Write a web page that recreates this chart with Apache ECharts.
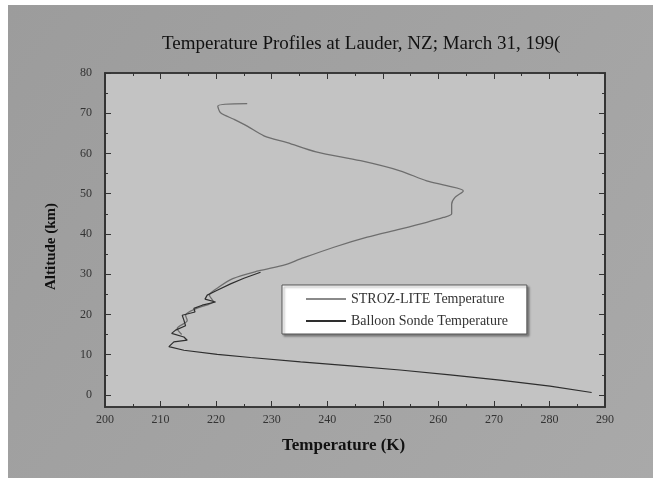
<!DOCTYPE html>
<html><head><meta charset="utf-8">
<script src="https://cdn.jsdelivr.net/npm/echarts@6/dist/echarts.min.js"></script>
<style>html,body{margin:0;padding:0;background:#fff}#c{width:653px;height:478px}</style>
</head><body><div id="c"></div>
<script>
// STROZ-LITE lidar profile (altitude km, temperature K)
var strozAlt  = [72.4, 71.8, 70.1, 68.5, 66.8, 64.4, 62.7, 60.4, 58.2, 55.7, 53.2, 52.0, 50.7, 49.1, 47.4, 45.0, 44.1, 42.9, 41.2, 39.2, 36.7, 33.8, 32.4, 30.8, 28.9, 26.8, 24.8, 23.2, 21.5, 19.8, 18.5, 16.5, 15.0];
var strozTemp = [225.6, 220.3, 220.8, 223.2, 225.6, 228.6, 232.8, 238.0, 246.0, 253.1, 257.9, 261.5, 264.5, 263.0, 262.4, 262.4, 260.9, 257.9, 253.1, 247.2, 241.2, 235.2, 232.5, 227.6, 223.0, 220.5, 218.8, 219.5, 216.5, 214.5, 214.8, 213.0, 213.8];
// Balloon sonde profile
var sondeAlt  = [0.6, 2.2, 3.7, 5.0, 6.2, 7.2, 8.2, 9.3, 10.1, 11.1, 12.0, 12.4, 13.2, 13.6, 14.4, 15.3, 16.1, 17.2, 18.6, 19.8, 20.6, 21.5, 22.3, 23.1, 23.8, 24.8, 26.0, 27.6, 29.0, 30.5];
var sondeTemp = [287.6, 280.1, 271.1, 262.1, 253.1, 244.2, 235.2, 226.2, 220.2, 214.2, 211.5, 211.2, 212.4, 214.8, 214.2, 212.0, 212.7, 214.5, 214.2, 213.9, 216.2, 216.0, 217.5, 219.9, 218.0, 218.4, 220.2, 222.6, 225.0, 228.0];
var yMajor = [0, 10, 20, 30, 40, 50, 60, 70, 80];
var yMinor = [5, 15, 25, 35, 45, 55, 65, 75];
var titleText = 'Temperature Profiles at Lauder, NZ; March 31, 199(';
var xName = 'Temperature (K)';
var yName = 'Altitude (km)';
var seriesNames = ['STROZ-LITE Temperature', 'Balloon Sonde Temperature'];

function pairs(t, a){ return t.map(function(v,i){ return [v, a[i]]; }); }

var serif = 'Liberation Serif';
var chart = echarts.init(document.getElementById('c'), null, {renderer:'canvas'});
var Y0 = -3, Y1 = 80;
function yAx(pos, ticks, len, labels){
  return {type:'value', min:Y0, max:Y1, position:pos,
    axisLine:{show:true, lineStyle:{color:'#333', width:1.5}},
    axisTick:{show:true, inside:true, length:len, customValues:ticks, lineStyle:{color:'#333'}},
    axisLabel:labels ? {show:true, customValues:ticks, fontFamily:serif, fontSize:12, color:'#333', margin:13} : {show:false},
    splitLine:{show:false}};
}
function xAx(pos, labels){
  return {type:'value', min:200, max:290, interval:10, position:pos,
    axisLine:{show:true, onZero:false, lineStyle:{color:'#333', width:1.5}},
    axisTick:{show:true, inside:true, length:6, lineStyle:{color:'#333'}},
    minorTick:{show:true, splitNumber:2, length:3, lineStyle:{color:'#333'}},
    axisLabel:labels ? {show:true, fontFamily:serif, fontSize:12, color:'#333', margin:7} : {show:false},
    splitLine:{show:false}};
}

chart.setOption({
  animation:false,
  backgroundColor:'#ffffff',
  graphic:[
    {type:'rect', z:-10, shape:{x:8, y:5, width:645, height:473},
      style:{fill:new echarts.graphic.LinearGradient(0,0,1,1,[{offset:0,color:'#9c9c9c'},{offset:1,color:'#a9a9a9'}])}},
    {type:'text', left:282, top:437, style:{text:xName, font:'bold 17px "Liberation Serif"', fill:'#111'}},
    {type:'text', x:44, y:290, rotation:Math.PI/2, style:{text:yName, font:'bold 15px "Liberation Serif"', fill:'#111'}}
  ],
  title:{text:titleText, left:157, top:30,
    textStyle:{fontFamily:serif, fontSize:19, fontWeight:'normal', color:'#111'}},
  grid:{left:105, right:48, top:73, bottom:71, show:true, backgroundColor:'#c3c3c3', borderColor:'#333', borderWidth:1.5},
  xAxis:[xAx('bottom', true), xAx('top', false)],
  yAxis:[yAx('left', yMajor, 6, true), yAx('left', yMinor, 3, false), yAx('right', yMajor, 6, false), yAx('right', yMinor, 3, false)],
  legend:{show:true, orient:'vertical', left:282, top:285,
    padding:[7, 19, 6, 24], itemGap:8, itemWidth:40, itemHeight:2, icon:'rect',
    backgroundColor:'#ffffff', borderColor:'#555', borderWidth:1,
    shadowColor:'rgba(0,0,0,0.35)', shadowBlur:2, shadowOffsetX:2, shadowOffsetY:2,
    textStyle:{fontFamily:serif, fontSize:14, color:'#333'},
    data:seriesNames},
  series:[
    {name:seriesNames[0], type:'line', xAxisIndex:0, yAxisIndex:0, data:pairs(strozTemp, strozAlt),
      symbol:'none', smooth:0.3, lineStyle:{color:'#6e6e6e', width:1.3}, itemStyle:{color:'#8a8a8a'}, z:2},
    {name:seriesNames[1], type:'line', xAxisIndex:0, yAxisIndex:0, data:pairs(sondeTemp, sondeAlt),
      symbol:'none', smooth:false, lineStyle:{color:'#2e2e2e', width:1.2}, itemStyle:{color:'#2e2e2e'}, z:3}
  ]
});
</script></body></html>
